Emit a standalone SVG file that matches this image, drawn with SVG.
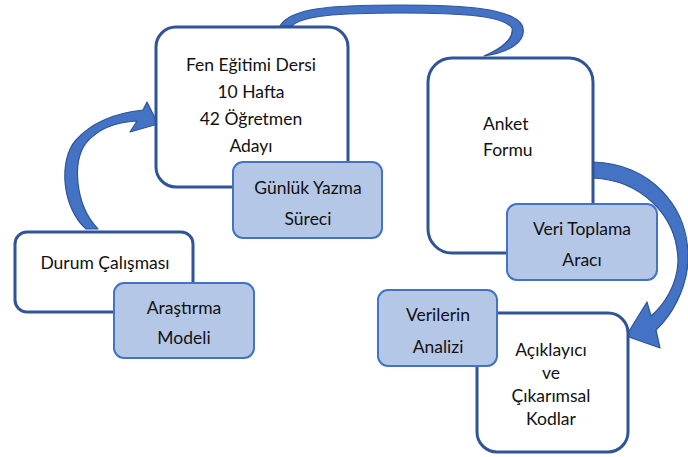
<svg xmlns="http://www.w3.org/2000/svg" width="688" height="457" viewBox="0 0 688 457">
<style>
.box{fill:#ffffff;stroke:#2F5597;stroke-width:3}
.sub{fill:#B4C7E7;stroke:#4472C4;stroke-width:2}
.t{font-family:Lato,"Open Sans","Liberation Sans",sans-serif;font-size:17.5px;fill:#111111;text-anchor:middle}
.tl{text-anchor:start}
.arr{fill:#4472C4;stroke:#2F5597;stroke-width:1.2;stroke-linejoin:round}
</style>
<rect width="688" height="457" fill="#ffffff"/>
<g id="connectors">
  <path class="arr" d="M 86 229 C 62 208, 58 160, 76 140 C 92 122, 115 113, 143 110 L 147 102 L 158 124 L 130 132 L 137 121 C 115 122, 97 130, 86 143 C 72 162, 75 205, 98 229 Z"/>
  <path class="arr" d="M 280 26 C 290 8, 330 5, 400 5 C 470 5, 512 9, 522 25 C 528 40, 512 52, 484 56 C 503 48, 514 38, 512 28 C 503 16, 465 13, 400 13 C 335 13, 302 16, 292 26 Z"/>
  <path class="arr" d="M 593 162 C 648 163, 690 205, 688 262 C 686 290, 672 315, 656 330 L 660 348 L 626 336 L 647 302 L 651 316 C 664 305, 677 285, 678 262 C 678 215, 640 180, 593 178 Z"/>
</g>
<g id="node-durum">
  <rect class="box" x="15" y="232" width="178" height="80" rx="12"/>
  <text class="t" x="105" y="269">Durum Çalışması</text>
</g>
<g id="node-arastirma">
  <rect class="sub" x="114" y="283" width="140" height="75" rx="10"/>
  <text class="t" x="184" y="314">Araştırma</text>
  <text class="t" x="184" y="344">Modeli</text>
</g>
<g id="node-fen">
  <rect class="box" x="156" y="27" width="192" height="160" rx="20"/>
  <text class="t" x="251" y="71">Fen Eğitimi Dersi</text>
  <text class="t" x="251" y="98">10 Hafta</text>
  <text class="t" x="251" y="125">42 Öğretmen</text>
  <text class="t" x="251" y="152">Adayı</text>
</g>
<g id="node-gunluk">
  <rect class="sub" x="233" y="162" width="149" height="76" rx="10"/>
  <text class="t" x="308" y="194">Günlük Yazma</text>
  <text class="t" x="308" y="225">Süreci</text>
</g>
<g id="node-anket">
  <rect class="box" x="428" y="58" width="165" height="195" rx="24"/>
  <text class="t tl" x="483" y="130">Anket</text>
  <text class="t tl" x="483" y="156">Formu</text>
</g>
<g id="node-veri">
  <rect class="sub" x="507" y="204" width="150" height="76" rx="10"/>
  <text class="t" x="582" y="235">Veri Toplama</text>
  <text class="t" x="582" y="266">Aracı</text>
</g>
<g id="node-aciklayici">
  <rect class="box" x="477" y="313" width="151" height="139" rx="20"/>
  <text class="t" x="551" y="356">Açıklayıcı</text>
  <text class="t" x="551" y="379">ve</text>
  <text class="t" x="551" y="402">Çıkarımsal</text>
  <text class="t" x="551" y="425">Kodlar</text>
</g>
<g id="node-verilerin">
  <rect class="sub" x="378" y="290" width="119" height="76" rx="10"/>
  <text class="t" x="438" y="321">Verilerin</text>
  <text class="t" x="438" y="353">Analizi</text>
</g>
</svg>
